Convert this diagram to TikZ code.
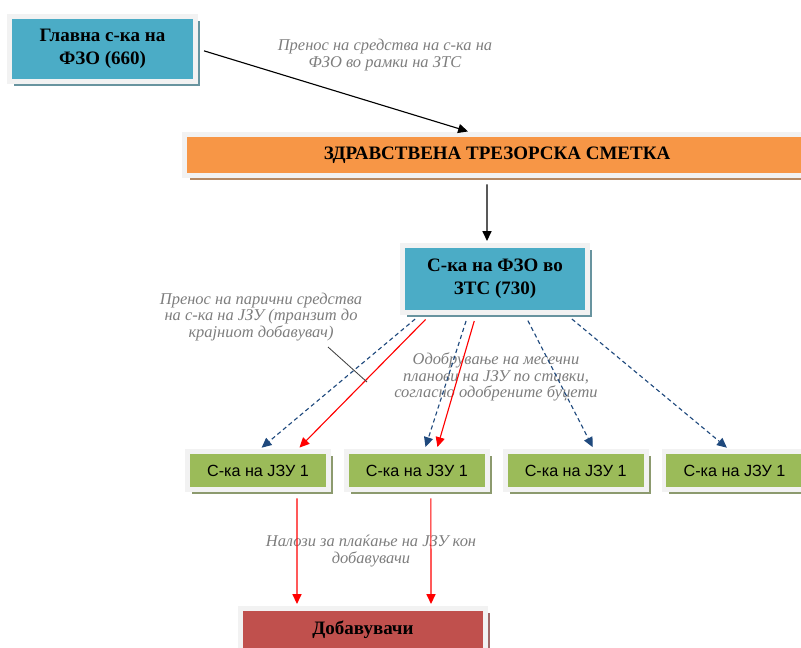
\documentclass[tikz,border=0pt]{standalone}
\usepackage{fontspec}
\setmainfont{Liberation Serif}
\newfontfamily\accsans{Liberation Sans}
\usetikzlibrary{positioning, arrows.meta, shadows}

\definecolor{fzoblue}{RGB}{75,172,198}
\definecolor{ztsorange}{RGB}{247,150,70}
\definecolor{jzugreen}{RGB}{155,187,89}
\definecolor{suppred}{RGB}{192,80,77}
\definecolor{planblue}{RGB}{31,73,125}
\definecolor{framegray}{RGB}{242,242,242}
\definecolor{notegray}{RGB}{125,125,125}

\tikzset{
  acct/.style={fill=#1, draw=framegray, line width=3.5pt, inner sep=0pt, align=center,
    font=\bfseries\fontsize{13.5}{16.5}\selectfont,
    drop shadow={shadow xshift=3.5pt, shadow yshift=-3.5pt, opacity=1, fill=#1!45!gray}},
  jzu/.style={acct=jzugreen, minimum width=3.525cm, minimum height=0.95cm,
    font=\accsans\fontsize{11.5}{13}\selectfont},
  note/.style={font=\itshape\fontsize{11.7}{11.9}\selectfont, text=notegray, align=center},
  flow/.style={-{Triangle[length=7pt,width=6.5pt]}, line width=0.8pt,
    shorten <=4.5pt, shorten >=1.5pt},
  plan/.style={flow, planblue, dash pattern=on 3pt off 2.2pt},
  pay/.style={flow, red},
}

\begin{document}
\begin{tikzpicture}[x=0.025cm, y=-0.025cm, node distance=3.97cm, on grid]
   \useasboundingbox (0,0) rectangle (801,647);

   % accounts
   \node[acct=fzoblue, minimum width=4.65cm, minimum height=1.625cm] (main) at (102.5,49) {Главна с-ка на\\ФЗО (660)};
   \node[acct=ztsorange, minimum width=15.6cm, minimum height=1.025cm] (zts) at (497,155) {ЗДРАВСТВЕНА ТРЕЗОРСКА СМЕТКА};
   \node[acct=fzoblue, minimum width=4.625cm, minimum height=1.675cm] (fzo) at (495,279) {С-ка на ФЗО во\\ЗТС (730)};
   \node[jzu] (jzu1) at (258,470.5) {С-ка на ЈЗУ 1};
   \node[jzu] (jzu2) [right=of jzu1] {С-ка на ЈЗУ 1};
   \node[jzu] (jzu3) [right=of jzu2] {С-ка на ЈЗУ 1};
   \node[jzu] (jzu4) [right=of jzu3] {С-ка на ЈЗУ 1};
   \node[acct=suppred, minimum width=6.125cm, minimum height=1.075cm] (supp) at (363,630) {Добавувачи};

   % notes
   \node[note] (movenote) at (385,55) {Пренос на средства на с-ка на\\ФЗО во рамки на ЗТС};
   \node[note] (paynote) at (261,317) {Пренос на парични средства\\на с-ка на ЈЗУ (транзит до\\крајниот добавувач)};
   \node[note] (plannote) at (496,377) {Одобрување на месечни\\планови на ЈЗУ по ставки,\\согласно одобрените буџети};
   \node[note] (ordernote) at (371,551) {Налози за плаќање на ЈЗУ кон\\добавувачи};

   \draw[flow] (main.east) -- ([xshift=-0.675cm]zts.north);
   \draw[flow] ([xshift=-0.25cm]zts.south) -- ([xshift=-0.2cm]fzo.north);

   % monthly plans
   \draw[plan] ([xshift=-1.875cm]fzo.south) -- ([xshift=0.05cm]jzu1.north);
   \draw[plan] ([xshift=-0.675cm]fzo.south) -- ([xshift=0.2cm]jzu2.north);
   \draw[plan] ([xshift=0.75cm]fzo.south) -- ([xshift=0.45cm]jzu3.north);
   \draw[plan] ([xshift=1.8cm]fzo.south) -- ([xshift=-0.15cm]jzu4.north);

   % money
   \draw[pay] ([xshift=-1.625cm]fzo.south) -- ([xshift=1cm]jzu1.north);
   \draw[pay] ([xshift=-0.475cm]fzo.south) -- ([xshift=0.5cm]jzu2.north);
   \draw[pay] ([xshift=0.975cm]jzu1.south) -- ([xshift=-1.65cm]supp.north);
   \draw[pay] ([xshift=0.35cm]jzu2.south) -- ([xshift=1.7cm]supp.north);

   \coordinate (callout) at (328,347);
   \coordinate (tick) at (367,382);
   \draw[black!75, line width=0.6pt] (callout) -- (tick);
\end{tikzpicture}
\end{document}
